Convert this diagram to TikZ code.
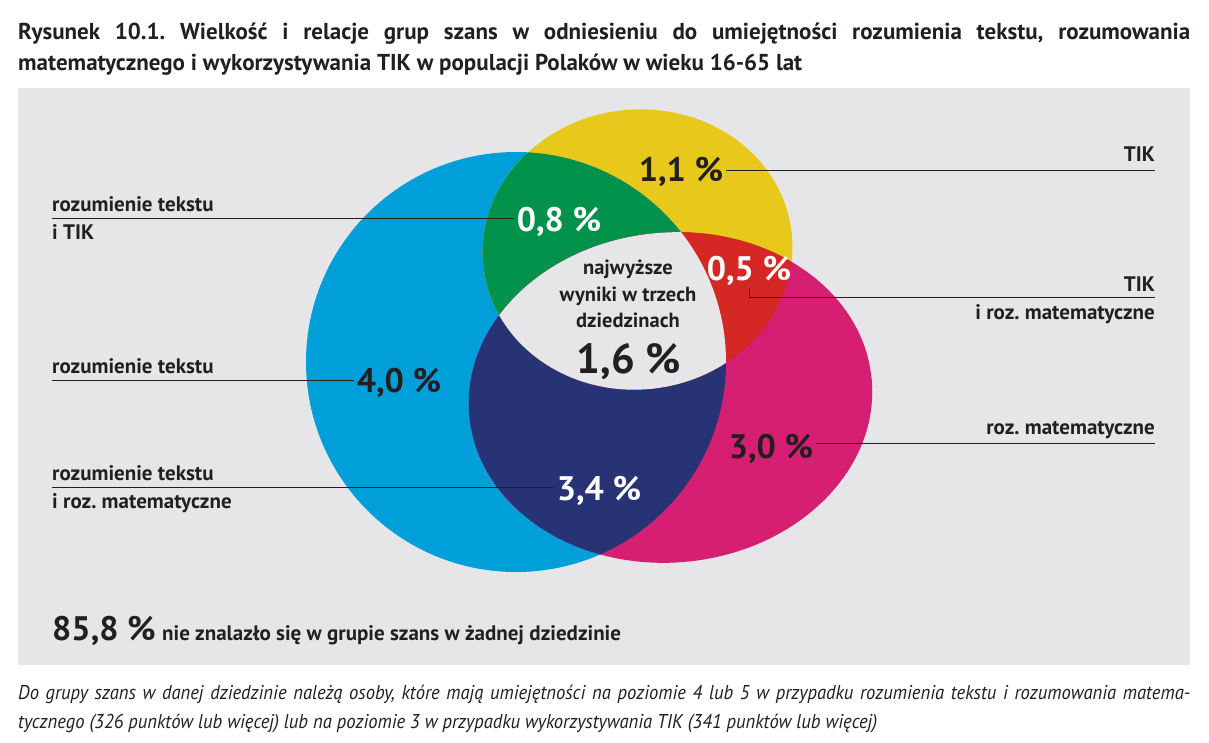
\documentclass[tikz,border=0pt]{standalone}
\usepackage{fontspec}
\setmainfont{PT Sans}
\newfontfamily\footfont{PT Sans}[FakeStretch=0.93]
\usetikzlibrary{positioning}
\definecolor{bggray}{RGB}{230,230,232}
\definecolor{txtdark}{RGB}{35,31,32}
\definecolor{tekstblue}{RGB}{0,159,218}
\definecolor{tikyellow}{RGB}{232,200,26}
\definecolor{matpink}{RGB}{214,30,115}
\definecolor{tikgreen}{RGB}{0,145,75}
\definecolor{tikred}{RGB}{213,39,36}
\definecolor{matnavy}{RGB}{40,51,118}
\newcommand{\tekstpath}{(516,362) circle [radius=210]}
\newcommand{\tikpath}{(637.5,249.5) ellipse [x radius=155, y radius=140]}
\newcommand{\matpath}{(670.5,397.5) ellipse [x radius=202, y radius=165]}

\begin{document}
\frenchspacing
\begin{tikzpicture}[x=1pt, y=-1pt,
    tikrot/.style={rotate around={6:(637.5,249.5)}},
    matrot/.style={rotate around={5:(670.5,397.5)}},
    leader/.style={draw=txtdark, line width=1pt},
    lbl/.style={font=\fontsize{21}{24}\selectfont\bfseries, text=txtdark, inner sep=0pt},
    num/.style={font=\fontsize{34}{34}\selectfont\bfseries, text=txtdark, inner sep=3pt},
    wnum/.style={num, text=white},
    titel/.style={font=\fontsize{23}{27}\selectfont\bfseries, text=txtdark, inner sep=0pt, anchor=base west},
    foot/.style={font=\footfont\itshape\fontsize{20}{24}\selectfont, text=txtdark, inner sep=0pt, anchor=base west}]
  \useasboundingbox[fill=white] (0,0) rectangle (1209,742);
  \node[titel] (tyt1) at (18,39) {\makebox[1172pt][s]{Rysunek 10.1. Wielkość i relacje grup szans w odniesieniu do umiejętności rozumienia tekstu, rozumowania}};
  \node[titel] (tyt2) at (18,70) {matematycznego i wykorzystywania TIK w populacji Polaków w wieku 16-65 lat};
  \fill[bggray] (18,88) rectangle (1190,665);

  \fill[tekstblue] \tekstpath;
  \fill[tikyellow, tikrot] \tikpath;
  \fill[matpink, matrot] \matpath;
  \begin{scope}
    \clip \tekstpath;
    \fill[tikgreen, tikrot] \tikpath;
    \fill[matnavy, matrot] \matpath;
  \end{scope}
  \begin{scope}
    \clip[tikrot] \tikpath;
    \fill[tikred, matrot] \matpath;
  \end{scope}
  \begin{scope}
    \clip \tekstpath;
    \clip[tikrot] \tikpath;
    \fill[bggray, matrot] \matpath;
  \end{scope}

  \node[num, anchor=base] (n11) at (681,181) {1,1 \%};
  \node[wnum, anchor=base] (n08) at (559,231) {0,8 \%};
  \node[wnum, anchor=base] (n05) at (749,280) {0,5 \%};
  \node[num, anchor=base] (n40) at (399,392) {4,0 \%};
  \node[wnum, anchor=base] (n34) at (599,500) {3,4 \%};
  \node[num, anchor=base] (n30) at (771,458) {3,0 \%};
  \node[num, anchor=base, font=\fontsize{42}{42}\selectfont\bfseries] (n16) at (629,373) {1,6 \%};
  \node[lbl, align=center, font=\fontsize{20.5}{26.5}\selectfont\bfseries] (najw) at (628,294) {najwyższe\\wyniki w trzech\\dziedzinach};

  \coordinate (tt1) at (52,218);
  \coordinate (tt2) at (52,380);
  \coordinate (tt3) at (52,487);
  \coordinate (r1) at (1155,170);
  \coordinate (r2) at (1155,297);
  \coordinate (r3) at (1155,443);

  \draw[leader] (tt1) -- (tt1 -| n08.west);
  \draw[leader] (tt2) -- (tt2 -| n40.west);
  \draw[leader] (tt3) -- (tt3 -| n34.west);
  \draw[leader] (n11.east |- r1) -- (r1);
  \draw[leader] (n05.south) -- (n05.south |- r2) -- (r2);
  \draw[leader] (n30.east |- r3) -- (r3);

  \node[lbl, above right=6pt and 0pt of tt1] (lt1a) {rozumienie tekstu};
  \node[lbl, below right=6pt and 0pt of tt1] (lt1b) {i TIK};
  \node[lbl, above right=6pt and 0pt of tt2] (lt2) {rozumienie tekstu};
  \node[lbl, above right=6pt and 0pt of tt3] (lt3a) {rozumienie tekstu};
  \node[lbl, below right=6pt and 0pt of tt3] (lt3b) {i roz. matematyczne};
  \node[lbl, above left=8pt and 0pt of r1] (lr1) {TIK};
  \node[lbl, above left=5pt and 0pt of r2] (lr2a) {TIK};
  \node[lbl, below left=7pt and 0pt of r2] (lr2b) {i roz. matematyczne};
  \node[lbl, above left=4pt and 0pt of r3] (lr3) {roz. matematyczne};

  \node[num, anchor=base west, inner sep=0pt] (n858) at (52,640) {85,8 \%};
  \node[lbl, anchor=base west, xshift=6pt] (brak) at (n858.base east) {nie znalazło się w grupie szans w żadnej dziedzinie};

  \node[foot] (fn1) at (18,699) {\makebox[1172pt][s]{Do grupy szans w danej dziedzinie należą osoby, które mają umiejętności na poziomie 4 lub 5 w przypadku rozumienia tekstu i rozumowania matema-}};
  \node[foot] (fn2) at (18,728) {tycznego (326 punktów lub więcej) lub na poziomie 3 w przypadku wykorzystywania TIK (341 punktów lub więcej)};
\end{tikzpicture}
\end{document}
